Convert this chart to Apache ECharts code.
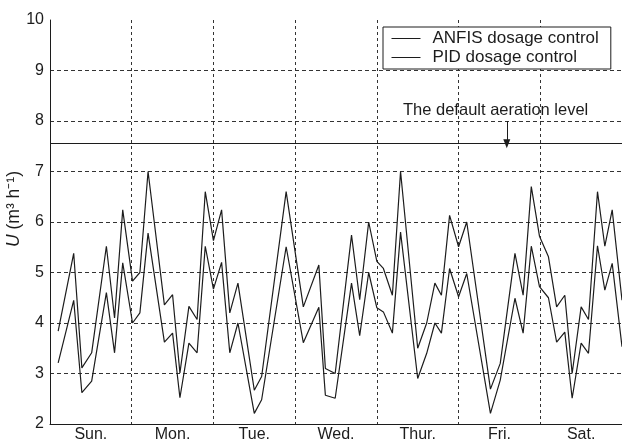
<!DOCTYPE html>
<html>
<head>
<meta charset="utf-8">
<script src="https://cdn.jsdelivr.net/npm/echarts@6/dist/echarts.min.js"></script>
<style>
  html, body { margin: 0; padding: 0; background: #fff; }
  #chart { width: 622px; height: 441px; }
</style>
</head>
<body>
<div id="chart"></div>
<script>
// x positions are in days since Sunday 0:00
const dayNames = ['Sun.', 'Mon.', 'Tue.', 'Wed.', 'Thur.', 'Fri.', 'Sat.']
const timeDays = [
  0.10, 0.29, 0.39, 0.51, 0.69, 0.79, 0.89, 1.01, 1.10, 1.20,
  1.40, 1.50, 1.59, 1.70, 1.80, 1.90, 2.00, 2.10, 2.20, 2.30,
  2.50, 2.59, 2.89, 3.10, 3.29, 3.37, 3.49, 3.69, 3.79, 3.90,
  4.00, 4.08, 4.19, 4.29, 4.50, 4.61, 4.71, 4.79, 4.89, 5.00,
  5.10, 5.39, 5.51, 5.69, 5.79, 5.89, 5.99, 6.10, 6.20, 6.30,
  6.39, 6.50, 6.59, 6.70, 6.79, 6.88, 7.00
]
const anfisValues = [
  3.21, 4.45, 2.62, 2.85, 4.60, 3.41, 5.19, 4.00, 4.20, 5.78,
  3.62, 3.80, 2.52, 3.60, 3.41, 5.52, 4.67, 5.20, 3.41, 4.00,
  2.21, 2.48, 5.51, 3.61, 4.31, 2.57, 2.51, 4.79, 3.75, 5.00,
  4.30, 4.22, 3.80, 5.80, 2.90, 3.40, 4.00, 3.80, 5.08, 4.52,
  4.98, 2.21, 2.87, 4.49, 3.80, 5.52, 4.72, 4.50, 3.62, 3.82,
  2.51, 3.60, 3.40, 5.53, 4.65, 5.18, 3.53
]
const pidValues = [
  3.84, 5.38, 3.11, 3.41, 5.52, 4.10, 6.24, 4.83, 5.00, 7.00,
  4.36, 4.56, 3.01, 4.33, 4.07, 6.60, 5.63, 6.24, 4.20, 4.79,
  2.67, 2.94, 6.60, 4.32, 5.15, 3.10, 3.00, 5.74, 4.46, 6.00,
  5.22, 5.08, 4.55, 7.00, 3.50, 4.00, 4.79, 4.55, 6.13, 5.51,
  6.00, 2.69, 3.20, 5.38, 4.55, 6.70, 5.72, 5.31, 4.32, 4.55,
  3.00, 4.32, 4.07, 6.60, 5.52, 6.24, 4.45
]
const defaultLevel = 7.55
const arrowAt = [5.59, 8.0]   // arrow start (day, value), points down to the default level

const ink = '#1c1c1c'
const font = 'Liberation Sans, Arial, sans-serif'

const chart = echarts.init(document.getElementById('chart'))

const option = {
  animation: false,
  backgroundColor: '#fff',
  textStyle: { fontFamily: font, color: ink },
  grid: { left: 50, right: 0, top: 20, bottom: 17, outerBoundsMode: 'none', containLabel: false },
  legend: {
    orient: 'vertical',
    left: 383,
    top: 27,
    data: ['ANFIS dosage control', 'PID dosage control'],
    backgroundColor: '#fff',
    borderColor: ink,
    borderWidth: 1,
    padding: [3, 12, 3, 8],
    itemWidth: 29,
    itemHeight: 10,
    itemGap: 2,
    itemStyle: { opacity: 0 },
    lineStyle: { color: ink, width: 1 },
    textStyle: { fontSize: 17, color: ink, fontFamily: font, padding: [0, 0, 0, 7] }
  },
  xAxis: [
    {
      type: 'value',
      min: 0,
      max: 7,
      interval: 1,
      axisLine: { show: true, lineStyle: { color: ink, width: 1 } },
      axisTick: { show: false },
      axisLabel: { show: false },
      splitLine: { show: true, showMinLine: false, lineStyle: { color: '#333', type: [3, 3], width: 1 } }
    },
    {
      type: 'category',
      position: 'bottom',
      data: dayNames,
      axisLine: { show: false },
      axisTick: { show: false },
      splitLine: { show: false },
      axisLabel: { fontSize: 16, color: ink, margin: 3, fontFamily: font }
    }
  ],
  yAxis: {
    type: 'value',
    min: 2,
    max: 10,
    interval: 1,
    name: '{i|U} (m³ h⁻¹)',
    nameLocation: 'middle',
    nameGap: 27,
    nameMoveOverlap: false,
    nameTextStyle: {
      fontSize: 17.5, color: ink, fontFamily: font, padding: [0, 0, 0, 26],
      rich: { i: { fontStyle: 'italic', fontSize: 17.5, fontFamily: font, color: ink } }
    },
    axisLine: { show: true, lineStyle: { color: ink, width: 1 } },
    axisTick: { show: false },
    axisLabel: { fontSize: 16, color: ink, margin: 6, fontFamily: font },
    splitLine: { show: true, showMinLine: false, showMaxLine: false, lineStyle: { color: '#333', type: [4, 3], width: 1 } }
  },
  series: [
    {
      name: 'ANFIS dosage control',
      type: 'line',
      symbol: 'none',
      data: timeDays.map((t, i) => [t, anfisValues[i]]),
      lineStyle: { color: ink, width: 1.2 },
      itemStyle: { color: ink }
    },
    {
      name: 'PID dosage control',
      type: 'line',
      symbol: 'none',
      data: timeDays.map((t, i) => [t, pidValues[i]]),
      lineStyle: { color: ink, width: 1.2 },
      itemStyle: { color: ink },
      markLine: {
        silent: true,
        animation: false,
        label: { show: false },
        data: [
          [
            { coord: [0, defaultLevel], symbol: 'none', lineStyle: { color: ink, width: 1, type: 'solid' } },
            { coord: [7, defaultLevel], symbol: 'none' }
          ],
          [
            { coord: arrowAt, symbol: 'none', lineStyle: { color: ink, width: 1, type: 'solid' } },
            { coord: [arrowAt[0], defaultLevel], symbol: 'triangle', symbolSize: [7, 9] }
          ]
        ]
      }
    }
  ],
  graphic: [
    {
      type: 'text',
      left: 403,
      top: 102,
      style: { text: 'The default aeration level', fontSize: 16.5, fill: ink, fontFamily: font }
    }
  ]
}

chart.setOption(option)
window.addEventListener('resize', () => chart.resize())
</script>
</body>
</html>
